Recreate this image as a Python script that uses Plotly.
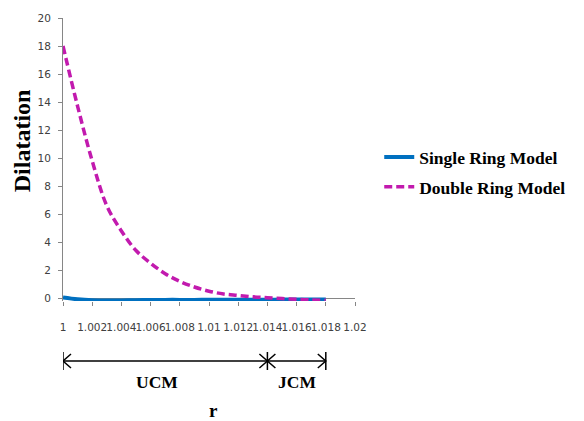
import plotly.graph_objects as go

# ---- data ----
r_values = [1.000, 1.001, 1.002, 1.003, 1.004, 1.005, 1.006, 1.007, 1.008, 1.009,
            1.010, 1.011, 1.012, 1.013, 1.014, 1.015, 1.016, 1.017, 1.018]
single_ring = [0.05, -0.08, -0.15, -0.17, -0.16, -0.14, -0.13, -0.12, -0.12, -0.12,
               -0.11, -0.11, -0.11, -0.11, -0.11, -0.10, -0.10, -0.10, -0.10]
double_ring = [18.0, 13.7, 9.8, 6.6, 4.8, 3.4, 2.5, 1.75, 1.2, 0.8,
               0.5, 0.3, 0.2, 0.1, 0.03, -0.03, -0.08, -0.12, -0.15]

x_tick_vals = [1.0, 1.002, 1.004, 1.006, 1.008, 1.01, 1.012, 1.014, 1.016, 1.018, 1.02]
x_tick_text = ["1", "1.002", "1.004", "1.006", "1.008", "1.01", "1.012", "1.014", "1.016", "1.018", "1.02"]
y_tick_vals = [0, 2, 4, 6, 8, 10, 12, 14, 16, 18, 20]

region_edges = [1.0, 1.014, 1.018]
region_labels = ["UCM", "JCM"]

SERIF = "Liberation Serif, Times New Roman, serif"
SANS = "DejaVu Sans, Verdana, sans-serif"
AXIS_COLOR = "#868686"
TICK_FONT_COLOR = "#404040"

fig = go.Figure()
fig.add_trace(go.Scatter(
    x=r_values, y=single_ring, mode="lines", name="<b>Single Ring Model</b>",
    line=dict(color="#0070C0", width=4, shape="spline"), legendgroup="a"))
fig.add_trace(go.Scatter(
    x=r_values, y=double_ring, mode="lines", name="<b>Double Ring Model</b>",
    line=dict(color="#C21AAE", width=3.5, dash="8px,4px", shape="spline"), legendgroup="b"))

# ---- region markers below the axis ----
line_y = -60      # px below plot bottom
bar_half = 9
head_w, head_h = 8, 7
shapes = []
shapes.append(dict(type="line", xref="x", x0=region_edges[0], x1=region_edges[-1],
                   yref="paper", ysizemode="pixel", yanchor=0, y0=line_y, y1=line_y,
                   line=dict(color="black", width=1.5)))
for i, edge in enumerate(region_edges):
    shapes.append(dict(type="line", xref="x", xsizemode="pixel", xanchor=edge, x0=0, x1=0,
                       yref="paper", ysizemode="pixel", yanchor=0,
                       y0=line_y - bar_half, y1=line_y + bar_half,
                       line=dict(color="black", width=1.5)))
    dirs = []
    if i < len(region_edges) - 1:
        dirs.append(1)    # head pointing left (segment goes right)
    if i > 0:
        dirs.append(-1)   # head pointing right (segment comes from left)
    for d in dirs:
        path = "M {},{} L 0,{} L {},{}".format(d * head_w, line_y + head_h, line_y,
                                               d * head_w, line_y - head_h)
        shapes.append(dict(type="path", xref="x", xsizemode="pixel", xanchor=edge,
                           yref="paper", ysizemode="pixel", yanchor=0, path=path,
                           line=dict(color="black", width=1.5)))

annotations = []
for k, lab in enumerate(region_labels):
    mid = (region_edges[k] + region_edges[k + 1]) / 2
    annotations.append(dict(x=mid, xref="x", y=0, yref="paper", yshift=-93,
                            xshift=-8 if k == 0 else 0,
                            text="<b>" + lab + "</b>", showarrow=False,
                            font=dict(family=SERIF, size=17.5, color="black")))
annotations.append(dict(x=0.5, xref="paper", y=0, yref="paper", yshift=-122, xshift=4,
                        text="<b>r</b>", showarrow=False,
                        font=dict(family=SERIF, size=19, color="black")))
annotations.append(dict(x=0, xref="paper", xshift=-41, xanchor="center",
                        y=0.554, yref="paper", yanchor="middle", yshift=3,
                        text="<b>Dilatation</b>", textangle=-90, showarrow=False,
                        font=dict(family=SERIF, size=24, color="black")))

fig.update_layout(
    width=584, height=421,
    margin=dict(l=63, r=229, t=12, b=120),
    paper_bgcolor="white", plot_bgcolor="white",
    showlegend=True,
    legend=dict(x=1.083, xanchor="left", y=0.455, yanchor="middle",
                font=dict(family=SERIF, size=17.5, color="black"),
                traceorder="grouped", tracegroupgap=4,
                bgcolor="rgba(0,0,0,0)", itemwidth=30),
    shapes=shapes,
    annotations=annotations,
    xaxis=dict(range=[1.0, 1.02], tickvals=x_tick_vals, ticktext=x_tick_text,
               tickangle=0,
               showgrid=False, zeroline=False, showline=False,
               ticks="outside", ticklen=4, tickcolor=AXIS_COLOR,
               ticklabelstandoff=12,
               tickfont=dict(family=SANS, size=10.5, color=TICK_FONT_COLOR)),
    yaxis=dict(range=[-0.2, 20], tickvals=y_tick_vals,
               showgrid=False, zeroline=True, zerolinecolor=AXIS_COLOR, zerolinewidth=1,
               showline=True, linecolor=AXIS_COLOR, linewidth=1,
               ticks="outside", ticklen=4, tickcolor=AXIS_COLOR,
               ticklabelstandoff=5,
               tickfont=dict(family=SANS, size=10.5, color=TICK_FONT_COLOR)),
)

fig.write_html("out.html")
